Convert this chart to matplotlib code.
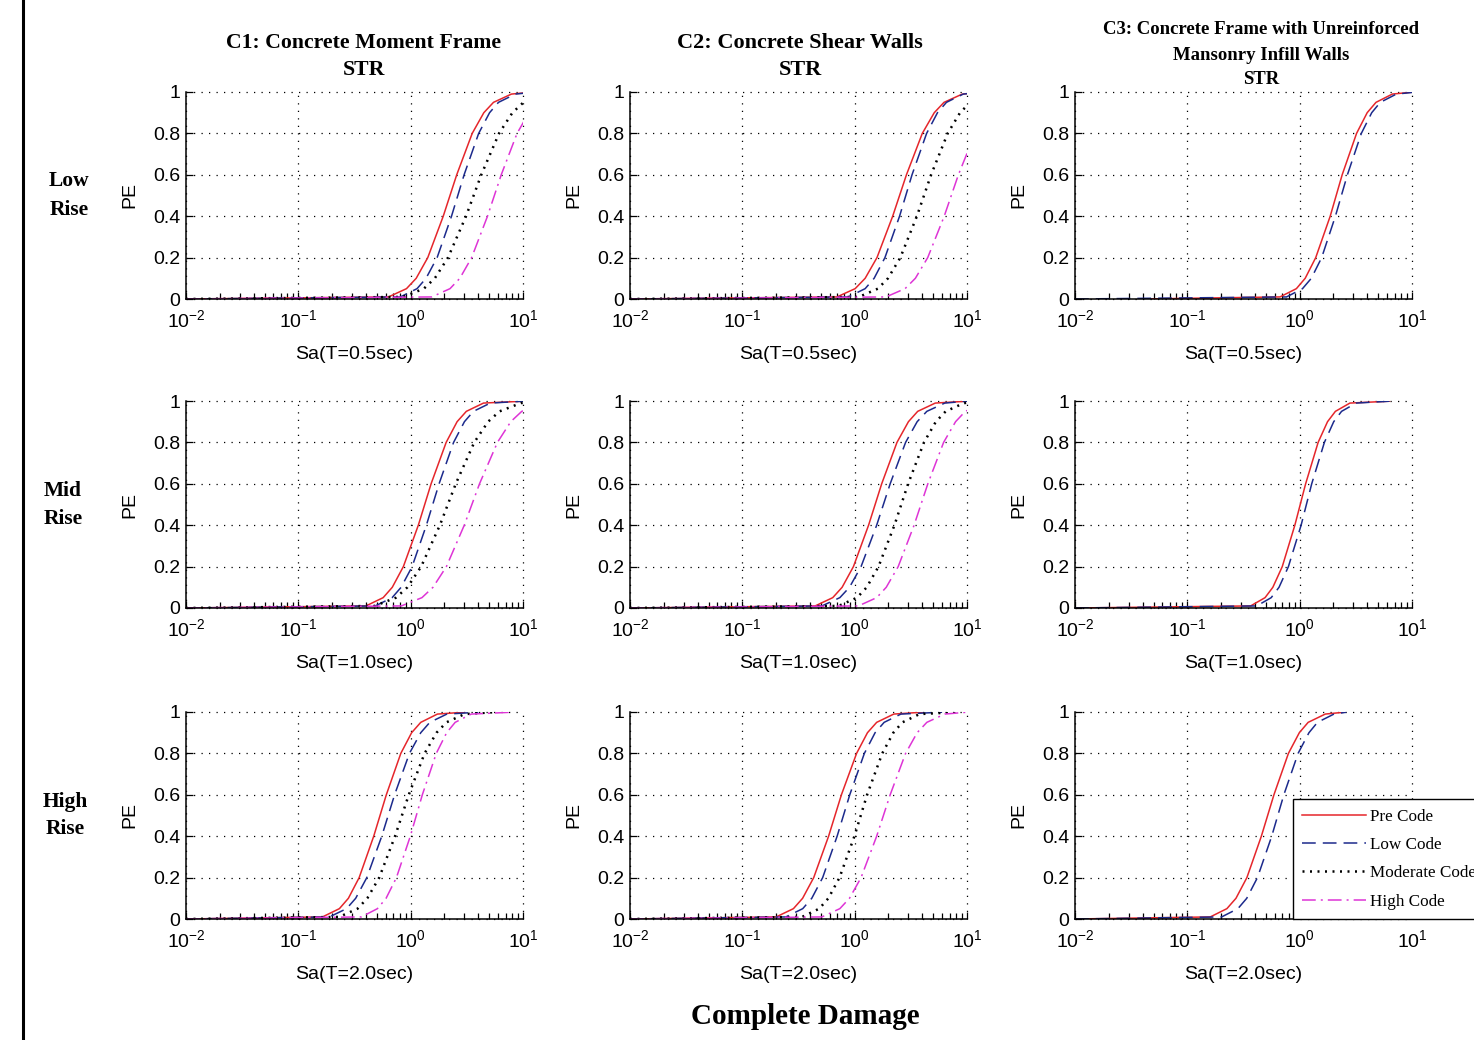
import math
import matplotlib
matplotlib.use('Agg')
import matplotlib.pyplot as plt
from matplotlib.lines import Line2D
from matplotlib.ticker import FixedLocator, LogLocator, FuncFormatter, NullFormatter

# probability of exceedance levels shared by every curve (first entry = start of the flat part)
PE_LEVELS = [0, 0.01, 0.05, 0.1, 0.2, 0.4, 0.6, 0.8, 0.9, 0.95, 0.99, 0.999]

# Sa (g) at each PE level: [start, Sa@0.01, Sa@0.05, ... Sa@0.999]
# C1: concrete moment frame
c1_low_pre = [0.01, 0.635, 0.918, 1.12, 1.42, 1.95, 2.57, 3.53, 4.48, 5.46, 7.89, 11.9]
c1_low_low = [0.01, 0.809, 1.14, 1.37, 1.72, 2.31, 2.99, 4.03, 5.04, 6.05, 8.55, 12.6]
c1_low_mod = [0.01, 0.855, 1.31, 1.64, 2.15, 3.11, 4.25, 6.12, 8.05, 10.1, 15.4, 24.8]
c1_low_high = [0.01, 1.54, 2.24, 2.74, 3.49, 4.83, 6.40, 8.85, 11.3, 13.8, 20.1, 30.7]

c1_mid_pre = [0.01, 0.400, 0.569, 0.686, 0.861, 1.17, 1.52, 2.07, 2.59, 3.13, 4.45, 10.0]
c1_mid_low = [0.01, 0.484, 0.684, 0.822, 1.03, 1.38, 1.79, 2.41, 3.01, 3.62, 5.12, 10.0]
c1_mid_mod = [0.01, 0.478, 0.740, 0.935, 1.24, 1.82, 2.52, 3.68, 4.89, 6.18, 9.57, 15.7]
c1_mid_high = [0.01, 0.826, 1.26, 1.58, 2.08, 3.00, 4.10, 5.92, 7.78, 9.75, 14.9, 23.9]

c1_high_pre = [0.01, 0.164, 0.232, 0.279, 0.348, 0.469, 0.607, 0.817, 1.02, 1.23, 1.73, 3.0]
c1_high_low = [0.01, 0.189, 0.269, 0.324, 0.407, 0.553, 0.719, 0.975, 1.23, 1.48, 2.10, 4.0]
c1_high_mod = [0.01, 0.231, 0.337, 0.411, 0.525, 0.726, 0.962, 1.33, 1.70, 2.08, 3.02, 5.5]
c1_high_high = [0.01, 0.364, 0.506, 0.604, 0.747, 0.993, 1.27, 1.69, 2.09, 2.49, 3.46, 8.0]

# C2: concrete shear walls
c2_low_pre = [0.01, 0.695, 1.01, 1.24, 1.58, 2.18, 2.89, 4.00, 5.11, 6.24, 9.08, 13.9]
c2_low_low = [0.01, 0.877, 1.24, 1.49, 1.86, 2.51, 3.24, 4.37, 5.46, 6.56, 9.27, 13.6]
c2_low_mod = [0.01, 1.09, 1.61, 1.98, 2.55, 3.58, 4.79, 6.73, 8.67, 10.7, 15.8, 24.5]
c2_low_high = [0.01, 1.90, 2.81, 3.47, 4.47, 6.27, 8.38, 11.8, 15.2, 18.7, 27.7, 42.7]

c2_mid_pre = [0.01, 0.445, 0.638, 0.773, 0.975, 1.33, 1.74, 2.38, 3.01, 3.64, 5.22, 10.0]
c2_mid_low = [0.01, 0.511, 0.738, 0.899, 1.14, 1.57, 2.07, 2.84, 3.60, 4.39, 6.34, 10.0]
c2_mid_mod = [0.01, 0.719, 1.05, 1.28, 1.63, 2.26, 2.99, 4.14, 5.28, 6.46, 9.40, 14.4]
c2_mid_high = [0.01, 1.08, 1.57, 1.91, 2.44, 3.38, 4.48, 6.19, 7.91, 9.66, 14.1, 21.5]

c2_high_pre = [0.01, 0.200, 0.285, 0.344, 0.432, 0.586, 0.762, 1.04, 1.30, 1.57, 2.23, 4.0]
c2_high_low = [0.01, 0.244, 0.345, 0.415, 0.519, 0.698, 0.904, 1.22, 1.52, 1.83, 2.58, 6.0]
c2_high_mod = [0.01, 0.340, 0.484, 0.583, 0.733, 0.995, 1.29, 1.76, 2.21, 2.66, 3.78, 8.0]
c2_high_high = [0.01, 0.511, 0.738, 0.899, 1.14, 1.57, 2.07, 2.84, 3.60, 4.39, 6.34, 10.0]

# C3: concrete frame with URM infill (only pre / low code curves)
c3_low_pre = [0.04, 0.668, 0.935, 1.12, 1.39, 1.87, 2.39, 3.21, 3.99, 4.78, 6.68, 10.0]
c3_low_low = [0.01, 0.764, 1.06, 1.27, 1.57, 2.08, 2.66, 3.54, 4.38, 5.22, 7.26, 10.5]

c3_mid_pre = [0.01, 0.366, 0.492, 0.577, 0.700, 0.906, 1.13, 1.46, 1.77, 2.08, 2.80, 6.3]
c3_mid_low = [0.01, 0.415, 0.558, 0.655, 0.794, 1.03, 1.28, 1.66, 2.01, 2.36, 3.18, 6.3]

c3_high_pre = [0.01, 0.160, 0.225, 0.271, 0.339, 0.456, 0.590, 0.794, 0.993, 1.19, 1.69, 2.5]
c3_high_low = [0.01, 0.202, 0.282, 0.338, 0.421, 0.564, 0.723, 0.968, 1.21, 1.44, 2.02, 2.6]

SERIES = ['Pre Code', 'Low Code', 'Moderate Code', 'High Code']
COL_TITLES = [['C1: Concrete Moment Frame', 'STR'],
              ['C2: Concrete Shear Walls', 'STR'],
              ['C3: Concrete Frame with Unreinforced', 'Mansonry Infill Walls', 'STR']]
ROW_LABELS = [['Low', 'Rise'], ['Mid', 'Rise'], ['High', 'Rise']]
X_LABELS = ['Sa(T=0.5sec)', 'Sa(T=1.0sec)', 'Sa(T=2.0sec)']
Y_TICKS = [0, 0.2, 0.4, 0.6, 0.8, 1]
X_TICKS = [0.01, 0.1, 1, 10]

panels = [
    [[c1_low_pre, c1_low_low, c1_low_mod, c1_low_high],
     [c2_low_pre, c2_low_low, c2_low_mod, c2_low_high],
     [c3_low_pre, c3_low_low]],
    [[c1_mid_pre, c1_mid_low, c1_mid_mod, c1_mid_high],
     [c2_mid_pre, c2_mid_low, c2_mid_mod, c2_mid_high],
     [c3_mid_pre, c3_mid_low]],
    [[c1_high_pre, c1_high_low, c1_high_mod, c1_high_high],
     [c2_high_pre, c2_high_low, c2_high_mod, c2_high_high],
     [c3_high_pre, c3_high_low]],
]

# line styles (matlab-ish r-, b--, k:, m-.)
styles = [
    dict(color='#e5262b', linestyle='-', linewidth=1.1),
    dict(color='#1c2a8c', linestyle=(0, (9, 4.6)), linewidth=1.1),
    dict(color='black', linestyle=(0, (0.8, 2.2)), linewidth=1.8),
    dict(color='#de34d6', linestyle=(0, (9, 3.3, 1.3, 3.3)), linewidth=1.1),
]

plt.rcParams['font.family'] = ['Liberation Sans', 'DejaVu Sans']
plt.rcParams['mathtext.fontset'] = 'custom'
plt.rcParams['mathtext.rm'] = 'Liberation Sans'
plt.rcParams['mathtext.default'] = 'regular'

FIG_W, FIG_H = 1474, 1040
fig = plt.figure(figsize=(FIG_W / 100, FIG_H / 100), dpi=100)
fig.patch.set_facecolor('white')

# axes layout in pixels
col_left = [186, 630, 1075]
row_top = [92, 401, 712]
ax_w, ax_h = 337, 207

serif = 'Liberation Serif'


def decade_label(v, pos):
    return r'$\mathdefault{10^{%d}}$' % round(math.log10(v))


for r in range(3):
    for c in range(3):
        ax = fig.add_axes([col_left[c] / FIG_W, 1 - (row_top[r] + ax_h) / FIG_H,
                           ax_w / FIG_W, ax_h / FIG_H])
        for k, sa in enumerate(panels[r][c]):
            ax.plot(sa, PE_LEVELS, **styles[k])
        ax.set_xscale('log')
        ax.set_xlim(0.01, 10)
        ax.set_ylim(0, 1)

        ax.xaxis.set_major_locator(FixedLocator(X_TICKS))
        ax.xaxis.set_minor_locator(LogLocator(base=10, subs=range(2, 10)))
        ax.xaxis.set_minor_formatter(NullFormatter())
        ax.xaxis.set_major_formatter(FuncFormatter(decade_label))
        ax.yaxis.set_major_locator(FixedLocator(Y_TICKS))
        ax.yaxis.set_major_formatter(FuncFormatter(lambda v, p: '%g' % v))

        ax.tick_params(which='both', direction='in', top=False, right=False,
                       labelsize=14, colors='black')
        ax.tick_params(which='major', length=5, width=0.9)
        ax.tick_params(which='minor', length=4, width=0.9)
        ax.tick_params(axis='x', which='major', pad=7)
        ax.tick_params(axis='y', which='major', pad=4)

        for side in ['top', 'right']:
            ax.spines[side].set_visible(False)
        for side in ['left', 'bottom']:
            ax.spines[side].set_linewidth(1.1)

        ax.set_axisbelow(True)
        ax.grid(True, which='major', color='black', linestyle=(0, (1, 5)), linewidth=0.9)
        for gl in ax.get_xgridlines() + ax.get_ygridlines():
            gl.set_clip_on(False)

        ax.set_ylabel('PE', fontsize=14, va='center')
        ax.yaxis.set_label_coords(-0.168, 0.5)
        ax.set_xlabel(X_LABELS[r], fontsize=14, va='center')
        ax.xaxis.set_label_coords(0.5, -0.266)

        if r == 2 and c == 2:
            handles = [Line2D([], [], **styles[k]) for k in range(4)]
            leg = ax.legend(handles, SERIES, loc='lower left', bbox_to_anchor=(0.647, 0.0),
                            borderaxespad=0, prop=dict(family=serif, size=12.3),
                            fancybox=False, edgecolor='black', framealpha=1,
                            handlelength=3.7, handletextpad=0.25, labelspacing=0.72,
                            borderpad=0.55)
            leg.get_frame().set_linewidth(1.0)

# column titles (sit slightly right of the axes centre in the original)
title_x = [364, 800, 1261]
title_y = [[43, 70], [43, 70], [30, 55, 80]]
title_size = [15.7, 16, 13.5]
for c in range(3):
    for line, py in zip(COL_TITLES[c], title_y[c]):
        fig.text(title_x[c] / FIG_W, 1 - py / FIG_H, line, ha='center', va='center',
                 family=serif, fontweight='bold', fontsize=title_size[c])

# row labels
row_x = [69, 63, 65]
for r in range(3):
    mid = row_top[r] + ax_h / 2
    for line, dy in zip(ROW_LABELS[r], [-14, 14]):
        fig.text(row_x[r] / FIG_W, 1 - (mid + dy) / FIG_H, line, ha='center', va='center',
                 family=serif, fontweight='bold', fontsize=15.5)

fig.text(805 / FIG_W, 1 - 1016 / FIG_H, 'Complete Damage', ha='center', va='center',
         family=serif, fontweight='bold', fontsize=21)

# black border line on the left side of the image
fig.add_artist(Line2D([23 / FIG_W, 23 / FIG_W], [0, 1], color='black', linewidth=2.2))

plt.savefig('out.png', dpi=100)
